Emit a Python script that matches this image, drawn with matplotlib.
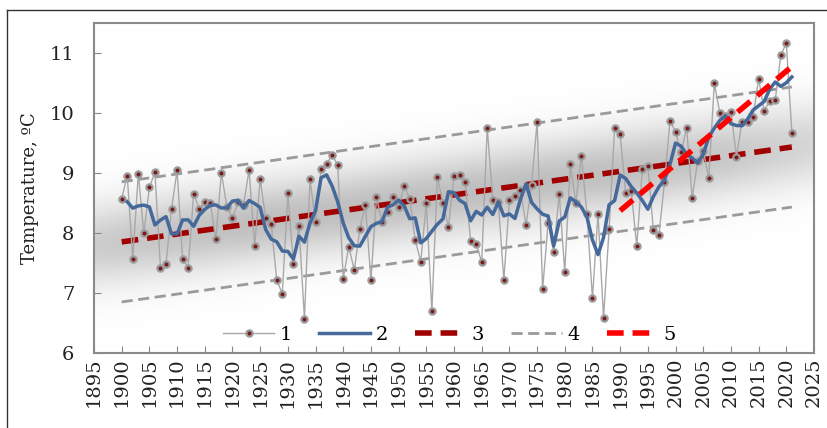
import numpy as np
import pandas as pd
import matplotlib
matplotlib.use("Agg")
import matplotlib.pyplot as plt
from matplotlib.lines import Line2D

# annual mean temperature, 1900-2021
years = np.arange(1900, 2022)
temps = [
    8.57, 8.95, 7.57, 8.98, 7.99, 8.76, 9.01, 7.42, 7.48, 8.40,
    9.04, 7.57, 7.42, 8.65, 8.40, 8.51, 8.49, 7.90, 9.00, 8.43,
    8.25, 8.51, 8.46, 9.05, 7.79, 8.89, 8.25, 8.14, 7.21, 6.99,
    8.67, 7.48, 8.11, 6.57, 8.89, 8.18, 9.07, 9.15, 9.30, 9.13,
    7.24, 7.77, 7.38, 8.07, 8.47, 7.21, 8.59, 8.18, 8.35, 8.60,
    8.43, 8.78, 8.57, 7.88, 7.52, 8.50, 6.70, 8.93, 8.49, 8.10,
    8.94, 8.97, 8.85, 7.86, 7.82, 7.51, 9.75, 8.55, 8.51, 7.21,
    8.54, 8.61, 8.71, 8.13, 8.80, 9.84, 7.06, 8.17, 7.68, 8.65,
    7.35, 9.14, 8.50, 9.28, 8.32, 6.91, 8.32, 6.58, 8.06, 9.74,
    9.64, 8.67, 8.70, 7.78, 9.06, 9.11, 8.05, 7.97, 8.84, 9.87,
    9.68, 9.34, 9.75, 8.58, 9.20, 9.37, 8.91, 10.49, 10.00, 9.95,
    10.02, 9.27, 9.85, 9.85, 9.93, 10.57, 10.03, 10.20, 10.21, 10.96,
    11.16, 9.67,
]

# linear trend over the whole period and its +-1 envelope
trend_years = [1900, 2021]
trend_vals = [7.85, 9.43]
band_offset = 1.0

# trend for the recent period
recent_years = [1990, 2021]
recent_vals = [8.37, 10.77]

legend_labels = ["1", "2", "3", "4", "5"]

plt.rcParams["font.family"] = ["DejaVu Serif"]

fig = plt.figure(figsize=(8.27, 4.28), dpi=100)
ax = fig.add_axes([94 / 827, 1 - 353 / 428, 720 / 827, 330.3 / 428])
ax.set_xlim(1895, 2025)
ax.set_ylim(6, 11.5)

# soft grey shading along the trend
gx = np.linspace(1895, 2025, 500)
gy = np.linspace(6, 11.5, 300)
GX, GY = np.meshgrid(gx, gy)
slope = (trend_vals[1] - trend_vals[0]) / (trend_years[1] - trend_years[0])
tline = trend_vals[0] + (GX - trend_years[0]) * slope
inten = np.exp(-((GY - tline) / 0.68) ** 2) * np.exp(-((GX - 1955) / 85) ** 4)
shade = 1 - 0.25 * inten
img = np.dstack([shade, shade, shade])
ax.imshow(img, extent=(1895, 2025, 6, 11.5), origin="lower", aspect="auto", zorder=0)

tx = np.array(trend_years)
tv = np.array(trend_vals)
ax.plot(tx, tv + band_offset, color="#9a9a9a", lw=2, dashes=(4, 2), zorder=2)
ax.plot(tx, tv - band_offset, color="#9a9a9a", lw=2, dashes=(4, 2), zorder=2)
ax.plot(tx, tv, color="#a00000", lw=4, dashes=(3, 1.6), zorder=3)

mk = dict(marker="o", markersize=4.5, markerfacecolor="#7a1a1a",
          markeredgecolor="#9c9c9c", markeredgewidth=1.6)
ax.plot(years, temps, color="#a8a8a8", lw=1, zorder=4, **mk)

smooth = pd.Series(temps, index=years).rolling(5, center=True, min_periods=3).mean()
ax.plot(years[1:], smooth.values[1:], color="#45699a", lw=2.5, zorder=5)

ax.plot(recent_years, recent_vals, color="#ff0000", lw=4, dashes=(3, 1.6), zorder=6)

handles = [
    Line2D([], [], color="#a8a8a8", lw=1, **mk),
    Line2D([], [], color="#45699a", lw=2.5),
    Line2D([], [], color="#a00000", lw=4, dashes=(3, 1.6)),
    Line2D([], [], color="#9a9a9a", lw=2, dashes=(4, 2)),
    Line2D([], [], color="#ff0000", lw=4, dashes=(3, 1.6)),
]
ax.legend(handles, legend_labels, loc="center", bbox_to_anchor=(0.494, 0.054), ncol=5,
          frameon=False, fontsize=14, handlelength=2.6, columnspacing=1.4, handletextpad=0.3)

ax.set_xticks(np.arange(1895, 2026, 5))
ax.set_yticks(np.arange(6, 12, 1))
ax.tick_params(axis="x", direction="in", length=5, color="#888888", labelsize=14,
               labelrotation=90, labelcolor="#222222")
ax.tick_params(axis="y", direction="in", length=5, color="#888888", labelsize=14,
               labelcolor="#222222", pad=14)
ax.set_ylabel("Temperature, ºC", fontsize=13, color="#222222", labelpad=8)
for s in ax.spines.values():
    s.set_color("#8a8a8a")
    s.set_linewidth(1.5)

# outer frame of the figure
fx = 7 / 827
fy = 1 - 10 / 428
fig.add_artist(Line2D([fx, fx], [0, fy], color="#333333", lw=1))
fig.add_artist(Line2D([fx, 1], [fy, fy], color="#333333", lw=1))

fig.savefig("out.png", dpi=100)
